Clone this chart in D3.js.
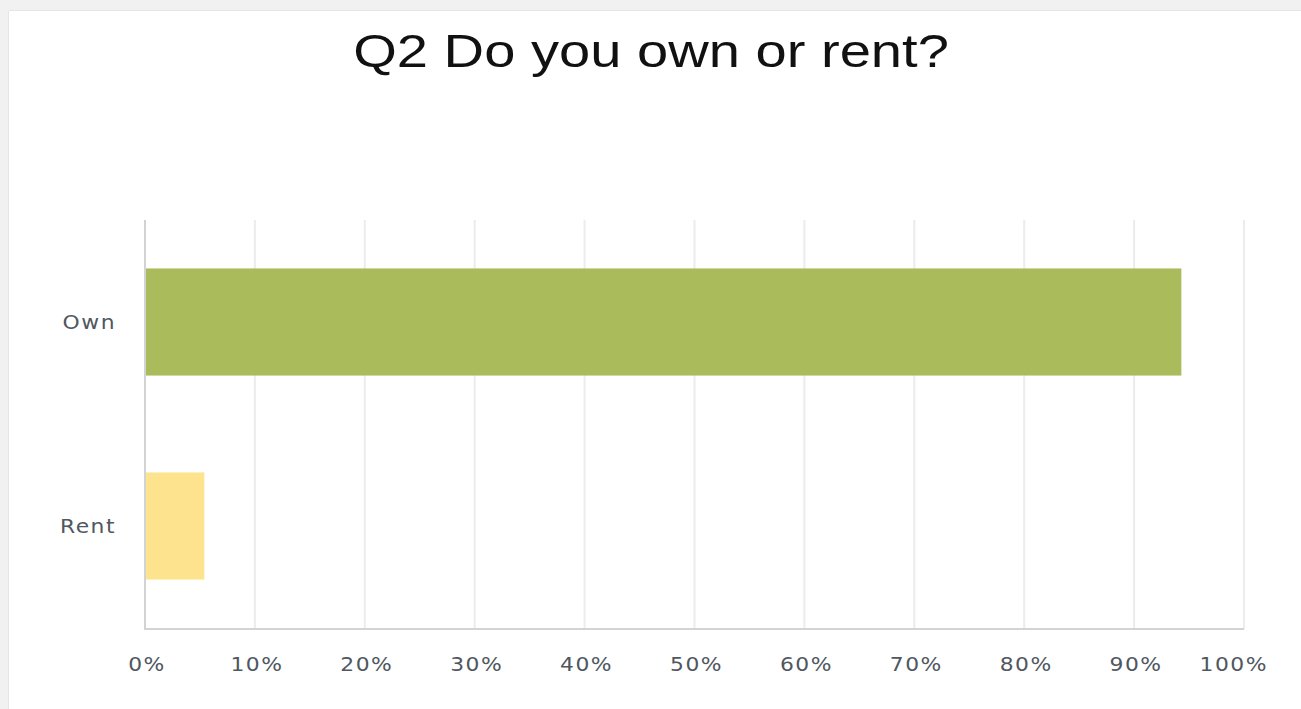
<!DOCTYPE html>
<html>
<head>
<meta charset="utf-8">
<script src="https://cdn.jsdelivr.net/npm/d3@7"></script>
<style>
    html, body { margin: 0; padding: 0; background: #f1f1f1; }
    svg { display: block; }
    .title { font-family: "Liberation Sans", Arial, sans-serif; font-size: 46px; fill: #111; }
    .cat-label, .tick-label { font-family: "DejaVu Sans", sans-serif; font-size: 19px; fill: #50575f; letter-spacing: 1.3px; }
    .grid { stroke: #ececec; stroke-width: 2; }
    .axis-line { stroke: #d3d3d3; stroke-width: 2; fill: none; }
</style>
</head>
<body>
<svg width="1301" height="709"></svg>
<script>
const categories = ["Own", "Rent"];
const values = [94.3, 5.4];
const barColors = ["#aabb5b", "#fee38f"];
const ticks = [0, 10, 20, 30, 40, 50, 60, 70, 80, 90, 100];
const tickLabels = ticks.map((t) => t + "%");

const svg = d3.select("svg");

// card
svg.append("rect")
    .attr("x", 9).attr("y", 11)
    .attr("width", 1301).attr("height", 709)
    .attr("fill", "#ffffff");
svg.append("line")
    .attr("x1", 9).attr("x2", 1301)
    .attr("y1", 10.5).attr("y2", 10.5)
    .attr("stroke", "#e4e4e4");
svg.append("line")
    .attr("x1", 8.5).attr("x2", 8.5)
    .attr("y1", 11).attr("y2", 709)
    .attr("stroke", "#e6e6e6");

svg.append("text")
    .attr("class", "title")
    .attr("text-anchor", "middle")
    .attr("transform", "translate(651,67) scale(1.22,1)")
    .text("Q2 Do you own or rent?");

const xScale = d3.scaleLinear()
    .domain([0, 100])
    .range([145, 1244]);

const yScale = d3.scaleBand()
    .domain(categories)
    .range([220, 628])
    .paddingInner(0.475)
    .paddingOuter(0.2375);

const colorScale = d3.scaleOrdinal()
    .domain(categories)
    .range(barColors);

svg.selectAll(".grid")
    .data(ticks.slice(1))
    .enter().append("line")
    .attr("class", "grid")
    .attr("x1", (d) => xScale(d))
    .attr("x2", (d) => xScale(d))
    .attr("y1", 220)
    .attr("y2", 629);

svg.append("path")
    .attr("class", "axis-line")
    .attr("d", `M${xScale(0)},220V${629}H${xScale(100)}`);

svg.selectAll(".bar")
    .data(categories)
    .enter().append("rect")
    .attr("class", "bar")
    .attr("x", xScale(0) + 1)
    .attr("y", (d) => yScale(d))
    .attr("width", (d, i) => xScale(values[i]) - xScale(0) - 1)
    .attr("height", yScale.bandwidth())
    .style("fill", (d) => colorScale(d));

svg.selectAll(".cat-label")
    .data(categories)
    .enter().append("text")
    .attr("class", "cat-label")
    .attr("text-anchor", "end")
    .attr("transform", (d) => `translate(116,${yScale(d) + yScale.bandwidth() / 2 + 7}) scale(1.15,1)`)
    .text((d) => d);

// tick labels centred on ticks, last one kept inside the card
svg.selectAll(".tick-label")
    .data(ticks)
    .enter().append("text")
    .attr("class", "tick-label")
    .attr("text-anchor", "middle")
    .attr("transform", (d) => `translate(${xScale(d) + 2},671) scale(1.15,1)`)
    .text((d, i) => tickLabels[i])
    .each(function (d) {
        const w = this.getComputedTextLength() * 1.15;
        const cx = xScale(d) + 2;
        if (cx + w / 2 > 1268) {
            d3.select(this).attr("transform", `translate(${1268 - w / 2},671) scale(1.15,1)`);
        }
    });
</script>
</body>
</html>
